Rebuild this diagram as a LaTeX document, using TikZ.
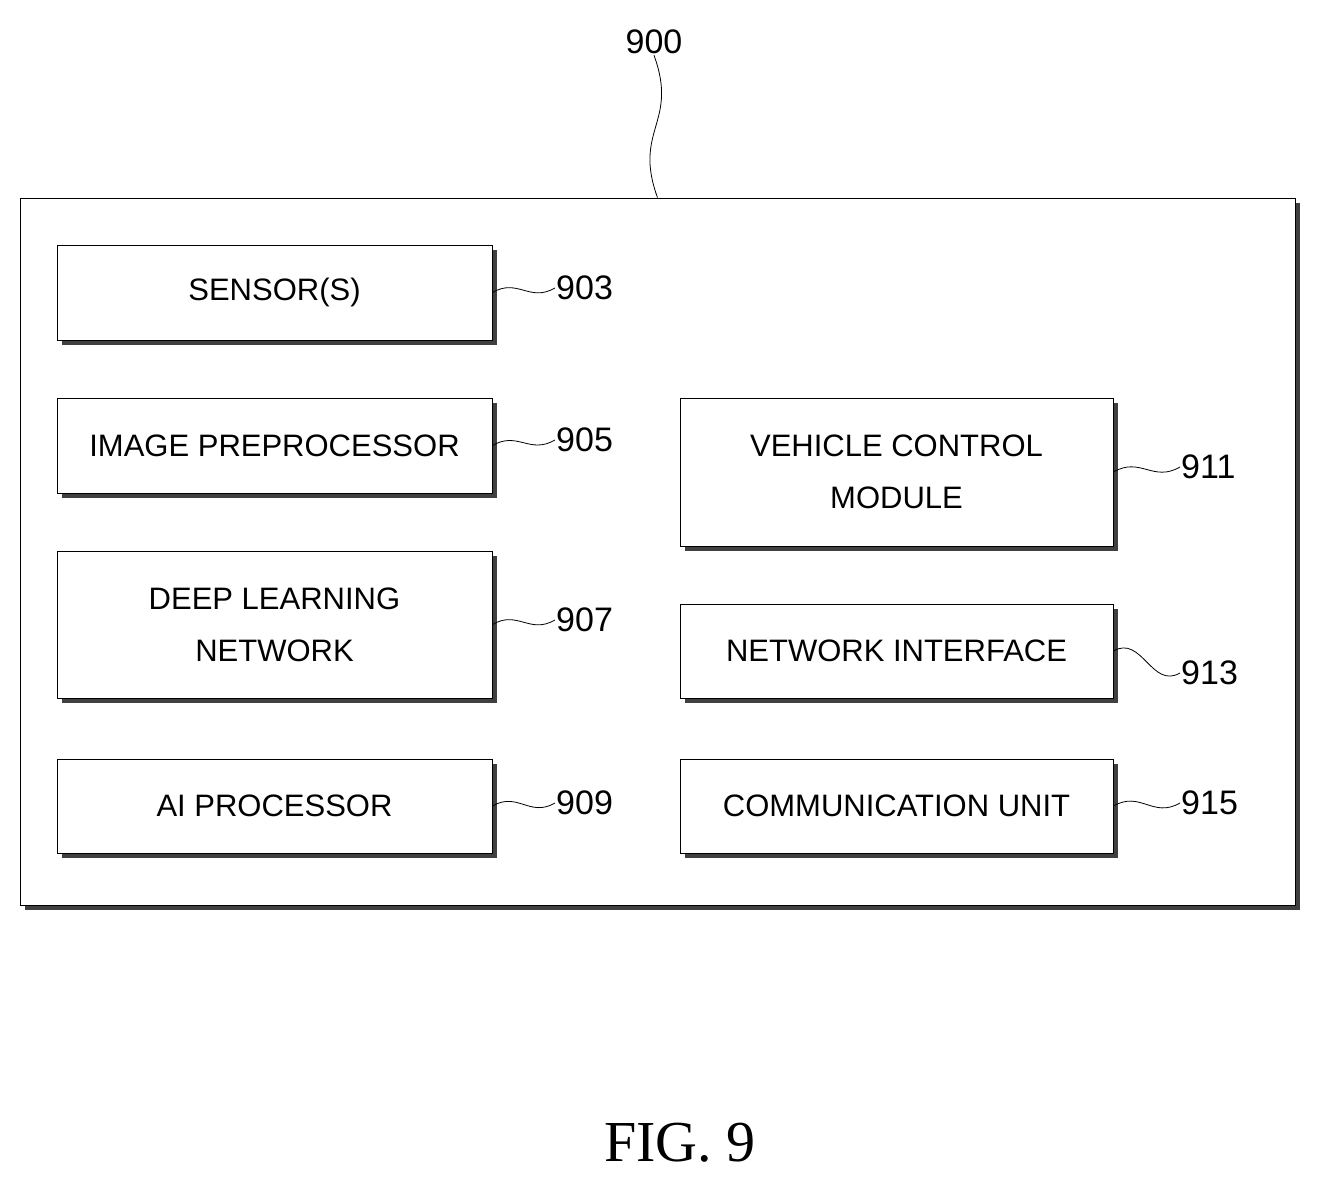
\documentclass[tikz,border=0pt]{standalone}
\usepackage{fontspec}
\setmainfont{Liberation Sans}
\newfontfamily\capfont{Liberation Serif}
\usetikzlibrary{shadows,positioning}
\begin{document}
\begin{tikzpicture}[x=1pt,y=-1pt,
	blk/.style={draw,thick,fill=white,align=center,inner sep=0pt,%
		font=\fontsize{31}{52}\selectfont,%
		drop shadow={shadow xshift=5pt,shadow yshift=-5pt,fill=black!75,opacity=1}},
	lbl/.style={inner sep=1pt,font=\fontsize{34}{40}\selectfont},
	wave/.style={thick,out=30,in=210,looseness=1.2}]
	\useasboundingbox (0,0) rectangle (1322,1191);
	\node[blk,minimum width=1275pt,minimum height=707pt] (box) at (657.5,551.5) {};
	\node[blk,minimum width=435pt,minimum height=95pt] (sen) at (274.5,292.5) {SENSOR(S)};
	\node[blk,minimum width=435pt,minimum height=95pt] (img) at (274.5,445.5) {IMAGE PREPROCESSOR};
	\node[blk,minimum width=435pt,minimum height=147pt] (dln) at (274.5,624.5) {DEEP LEARNING\\NETWORK};
	\node[blk,minimum width=435pt,minimum height=94pt] (aip) at (274.5,806) {AI PROCESSOR};
	\node[blk,minimum width=433pt,minimum height=148pt] (vcm) at (896.5,472) {VEHICLE CONTROL\\MODULE};
	\node[blk,minimum width=433pt,minimum height=94pt] (nif) at (896.5,651) {NETWORK INTERFACE};
	\node[blk,minimum width=433pt,minimum height=94pt] (com) at (896.5,806) {COMMUNICATION UNIT};
	% reference numerals
	\node[lbl] (n900) at (654,42) {900};
	\node[lbl,anchor=west] (n903) at (555,288) {903};
	\node[lbl,anchor=west] (n905) at (555,440) {905};
	\node[lbl,anchor=west] (n907) at (555,620) {907};
	\node[lbl,anchor=west] (n909) at (555,803) {909};
	\node[lbl,anchor=west] (n911) at (1180,467) {911};
	\node[lbl,anchor=west] (n913) at (1180,673) {913};
	\node[lbl,anchor=west] (n915) at (1180,803) {915};
	\draw[thick] (n900.south) to[out=-70,in=110,looseness=1.3] (box.north);
	\foreach \a/\b in {sen/n903,img/n905,dln/n907,aip/n909,vcm/n911,nif/n913,com/n915}
		\draw[wave] (\a.east) to (\b.west);
	\node[font=\capfont\fontsize{58}{64}\selectfont] (fig) at (680,1143) {FIG. 9};
\end{tikzpicture}
\end{document}
